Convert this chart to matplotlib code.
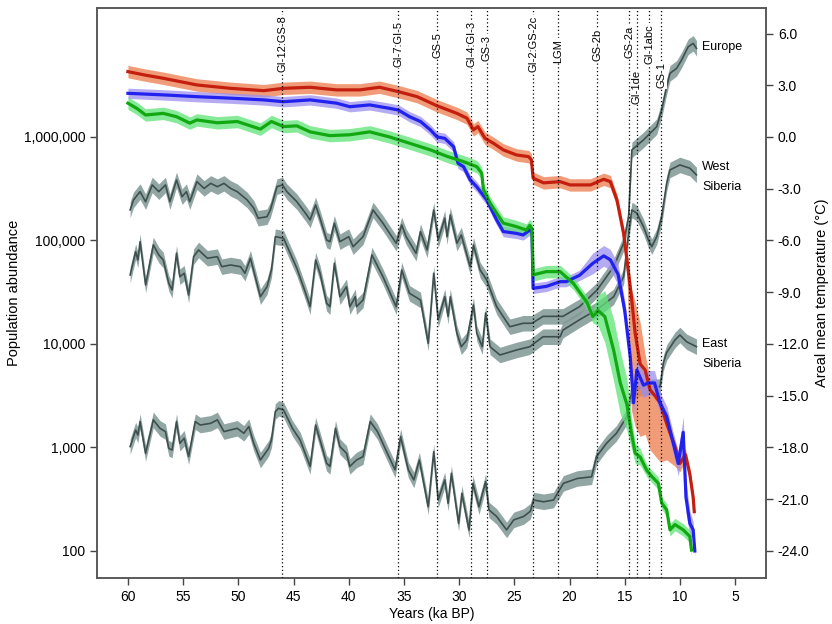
import numpy as np
import matplotlib
matplotlib.use("Agg")
import matplotlib.pyplot as plt
from matplotlib.ticker import FixedLocator, FuncFormatter, NullLocator

plt.rcParams['font.family'] = ['Liberation Sans', 'DejaVu Sans']

# ---------------- Population data (ka BP, abundance) ----------------
red_year = [60.0, 58.5, 56.8, 53.75, 50.7, 47.7, 45.9, 43.5, 41.1, 39.0, 37.2, 35.5, 33.8, 32.0,
            30.2, 29.3, 28.7, 28.3, 27.65, 26.9, 26.0, 24.8, 23.7, 23.45, 23.3, 22.35, 20.85,
            19.95, 18.1, 16.9, 16.3, 15.7, 15.1, 14.8, 14.4, 14.05, 13.6, 13.15, 12.7, 12.3,
            11.8, 11.2, 10.45, 10.0, 9.5, 9.1, 8.8, 8.7]
red_pop = [4.28e6, 3.97e6, 3.69e6, 3.18e6, 2.95e6, 2.80e6, 2.95e6, 3.02e6, 2.85e6, 2.85e6, 3.02e6,
           2.74e6, 2.45e6, 2.0e6, 1.69e6, 1.52e6, 1.17e6, 1.26e6, 9.7e5, 8.7e5, 7.5e5, 6.7e5,
           6.45e5, 6.0e5, 4.0e5, 3.6e5, 3.7e5, 3.44e5, 3.44e5, 3.9e5, 3.7e5, 2.45e5, 1.17e5,
           6.5e4, 2.9e4, 1.26e4, 6.4e3, 5.6e3, 3.6e3, 3.2e3, 2.7e3, 1.7e3, 1.02e3, 700, 850,
           550, 330, 240]
red_hi = [0.06] * 33 + [0.1, 0.08, 0.3, 0.4, 0.15, 0.1, 0.08, 0.08, 0.06, 0.06, 0.06, 0.06,
                        0.06, 0.06, 0.06]
red_lo = [0.06] * 32 + [0.1, 0.15, 1.1, 0.9, 0.7, 0.62, 0.58, 0.58, 0.57, 0.35, 0.19, 0.08,
                        0.06, 0.06, 0.06, 0.06]

blue_year = [60.0, 56.8, 53.75, 50.7, 47.7, 45.9, 43.5, 41.1, 39.9, 38.1, 36.3, 35.5, 34.5, 33.5,
             32.6, 32.0, 31.3, 30.5, 30.1, 29.6, 29.0, 28.4, 27.5, 26.6, 26.0, 24.8, 24.2, 23.6,
             23.4, 23.3, 22.1, 20.85, 20.3, 19.1, 17.9, 16.9, 16.3, 15.6, 15.0, 14.5, 14.2, 13.9,
             13.3, 12.9, 12.3, 11.8, 11.2, 10.6, 10.15, 9.7, 9.45, 9.1, 8.8, 8.65]
blue_pop = [2.64e6, 2.55e6, 2.45e6, 2.37e6, 2.28e6, 2.19e6, 2.28e6, 2.12e6, 1.96e6, 2.04e6, 1.89e6,
            1.82e6, 1.57e6, 1.41e6, 1.17e6, 1.0e6, 9.7e5, 8.05e5, 5.57e5, 5.16e5, 3.85e5, 3.3e5,
            2.46e5, 1.58e5, 1.22e5, 1.17e5, 1.13e5, 1.26e5, 1.2e5, 3.45e4, 3.6e4, 4.0e4, 4.0e4,
            4.6e4, 6.0e4, 7.1e4, 6.5e4, 4.7e4, 2.1e4, 7.5e3, 2.7e3, 5.6e3, 4.0e3, 4.2e3, 4.2e3,
            2.7e3, 2.0e3, 1.1e3, 700, 1.4e3, 330, 185, 160, 100]
blue_err = [0.05] * 34 + [0.1, 0.1, 0.1, 0.1, 0.1, 0.12, 0.12, 0.12, 0.12, 0.12, 0.12, 0.1,
                          0.1, 0.1, 0.12, 0.15, 0.15, 0.12, 0.08, 0.05]

green_year = [60.0, 59.2, 58.4, 56.8, 55.6, 54.4, 53.75, 51.9, 50.1, 48.0, 47.0, 45.9, 44.7, 43.5,
              41.7, 39.9, 38.1, 36.3, 34.5, 32.6, 31.1, 29.6, 28.4, 27.95, 27.8, 27.2, 26.6, 26.0,
              24.8, 23.9, 23.6, 23.4, 23.3, 22.1, 20.85, 19.65, 18.4, 17.9, 17.4, 16.8, 16.0,
              15.4, 14.8, 14.4, 14.05, 13.6, 13.0, 12.55, 11.95, 11.65, 11.2, 10.9, 10.45, 9.7,
              9.1, 8.95]
green_pop = [2.12e6, 1.89e6, 1.63e6, 1.69e6, 1.57e6, 1.36e6, 1.46e6, 1.37e6, 1.41e6, 1.19e6,
             1.41e6, 1.26e6, 1.28e6, 1.12e6, 1.03e6, 1.05e6, 1.12e6, 1.0e6, 8.7e5, 7.5e5, 6.5e5,
             5.77e5, 5.16e5, 4.46e5, 3.1e5, 2.3e5, 1.83e5, 1.47e5, 1.36e5, 1.26e5, 1.4e5, 1.3e5,
             4.65e4, 5.0e4, 5.0e4, 3.85e4, 2.5e4, 1.84e4, 2.1e4, 1.84e4, 8.7e3, 4.2e3, 2.6e3,
             1.4e3, 880, 810, 600, 525, 450, 290, 250, 160, 180, 160, 138, 102]
green_err = [0.06] * 38 + [0.15, 0.25, 0.3, 0.3, 0.25, 0.15, 0.1, 0.08] + [0.06] * 10

# ---------------- Temperature data (ka BP, deg C) ----------------
eu_year = [59.8, 59.5, 58.9, 58.4, 57.8, 57.2, 56.6, 56.2, 55.6, 55.1, 54.7, 54.4, 53.75, 53.1,
           52.5, 51.9, 51.3, 50.7, 50.1, 49.2, 48.6, 48.2, 47.4, 47.1, 46.5, 46.0, 45.6, 44.7,
           43.8, 43.5, 43.0, 42.6, 42.0, 41.7, 41.3, 40.8, 40.0, 39.6, 38.7, 37.8, 36.9, 35.7,
           35.2, 34.8, 33.9, 33.5, 32.9, 32.3, 31.9, 31.3, 31.1, 30.8, 30.2, 29.8, 29.0, 28.7,
           28.1, 27.5, 26.6, 25.4, 24.2, 23.4, 22.4, 20.6, 19.1, 17.5, 16.0, 15.1, 14.65, 14.35,
           13.9, 13.3, 12.85, 12.1, 11.65, 11.2, 10.9, 10.3, 9.85, 9.25, 8.8, 8.5]
eu_temp = [-4.23, -3.65, -3.17, -3.75, -2.78, -3.17, -2.78, -3.75, -2.49, -3.46, -3.17, -3.75,
           -2.59, -2.98, -2.69, -2.88, -2.69, -2.98, -3.17, -3.65, -4.13, -4.71, -4.62, -4.23,
           -2.88, -2.78, -3.17, -3.75, -4.52, -4.81, -3.94, -4.71, -5.97, -6.07, -5.0, -6.07,
           -5.78, -6.36, -5.78, -4.23, -5.0, -6.16, -5.1, -5.78, -6.74, -5.49, -6.55, -4.23,
           -5.97, -4.71, -5.78, -4.52, -6.16, -5.68, -7.52, -6.26, -7.71, -8.29, -9.84, -11.0,
           -10.8, -10.8, -10.4, -10.4, -9.84, -8.87, -7.52, -6.16, -4.62, -0.75, -0.5, -0.17,
           0.12, 0.6, 1.57, 2.92, 3.69, 3.98, 4.46, 5.23, 5.43, 5.14]

ws_year = [59.8, 59.3, 59.1, 58.9, 58.4, 57.7, 57.2, 56.8, 56.3, 56.0, 55.6, 55.3, 54.9, 54.5,
           54.05, 53.6, 52.8, 51.9, 51.5, 50.7, 49.8, 49.4, 48.9, 48.0, 47.4, 47.0, 46.65, 45.9,
           45.3, 44.7, 43.9, 43.5, 43.0, 42.6, 42.0, 41.7, 41.3, 40.8, 40.2, 39.9, 39.4, 39.3,
           38.7, 37.9, 36.9, 35.7, 35.2, 34.5, 33.5, 32.8, 32.3, 31.9, 31.3, 31.0, 30.8, 30.2,
           29.8, 29.3, 28.7, 28.4, 27.9, 27.6, 27.2, 26.3, 24.8, 23.6, 22.4, 20.85, 20.6, 19.1,
           17.5, 16.0, 15.1, 14.65, 14.35, 13.9, 13.3, 12.85, 12.55, 12.1, 11.65, 11.2, 10.9,
           10.0, 9.1, 8.5]
ws_temp = [-8.0, -6.65, -7.13, -6.07, -8.58, -6.26, -6.84, -7.13, -8.48, -8.87, -6.74, -8.1, -7.9,
           -9.16, -6.94, -6.55, -7.03, -6.94, -7.52, -7.42, -7.52, -7.9, -7.03, -9.26, -8.68,
           -7.71, -5.78, -5.87, -6.74, -7.61, -9.06, -9.84, -7.13, -7.9, -9.64, -9.84, -7.32,
           -9.26, -8.68, -9.84, -9.26, -9.84, -9.45, -6.84, -8.1, -9.84, -7.71, -9.06, -9.45,
           -11.96, -7.9, -10.6, -9.26, -10.4, -9.26, -11.38, -12.16, -11.77, -9.74, -11.38,
           -12.16, -10.2, -12.16, -12.64, -12.35, -12.16, -11.58, -11.58, -11.2, -10.6, -10.0,
           -9.26, -8.1, -5.58, -4.23, -4.42, -5.2, -5.97, -6.36, -5.78, -4.62, -2.69, -1.91,
           -1.62, -1.81, -2.2]

es_year = [59.8, 59.3, 59.1, 58.9, 58.4, 57.7, 57.1, 56.6, 56.3, 56.0, 55.6, 55.3, 54.9, 54.5,
           53.9, 53.45, 52.5, 51.9, 51.3, 50.1, 49.5, 49.05, 48.6, 48.0, 47.25, 47.0, 46.65,
           46.35, 45.9, 45.1, 44.4, 43.5, 43.0, 42.6, 42.0, 41.7, 41.2, 40.8, 40.2, 39.9, 39.3,
           38.7, 38.05, 37.4, 36.5, 35.8, 35.3, 34.6, 34.1, 33.6, 32.8, 32.3, 31.9, 31.3, 31.0,
           30.7, 30.05, 29.75, 29.1, 28.75, 28.2, 27.6, 27.3, 26.6, 25.7, 25.05, 24.15, 23.55,
           23.25, 22.35, 21.45, 20.55, 19.3, 18.0, 17.55, 16.65, 15.75, 14.8, 14.5, 13.9, 12.9,
           11.8, 11.5, 11.2, 10.45, 10.0, 9.4, 8.8, 8.5]
es_temp = [-17.95, -16.99, -17.28, -16.5, -18.34, -16.4, -16.89, -17.08, -18.05, -18.15, -16.5,
           -17.76, -17.47, -18.53, -16.5, -16.7, -16.6, -16.4, -17.08, -16.89, -17.18, -16.79,
           -17.76, -18.73, -18.05, -17.57, -15.92, -15.73, -15.83, -16.89, -17.57, -19.1, -16.7,
           -17.57, -18.92, -19.1, -16.89, -17.95, -18.34, -19.1, -18.73, -18.53, -16.5, -17.08,
           -18.34, -19.3, -17.37, -19.3, -19.88, -18.73, -21.44, -18.24, -21.05, -19.88, -21.24,
           -19.5, -22.4, -20.66, -22.79, -20.08, -21.44, -19.98, -21.62, -22.0, -22.78, -22.2,
           -22.0, -21.7, -21.05, -21.15, -21.05, -20.08, -19.8, -19.7, -18.53, -17.76, -17.18,
           -16.21, -15.05, -14.6, -14.5, -14.47, -13.1, -12.5, -11.77, -11.48, -11.87, -12.06,
           -12.16]
temp_err = 0.45

# ---------------- Event markers ----------------
event_year = [46.0, 35.5, 32.0, 28.9, 27.5, 23.3, 21.0, 17.5, 14.6, 13.9, 12.8, 11.7]
event_label = ["GI-12:GS-8", "GI-7:GI-5", "GS-5", "GI-4:GI-3", "GS-3", "GI-2:GS-2c", "LGM",
               "GS-2b", "GS-2a", "GI-1de", "GI-1abc", "GS-1"]
event_pos = [0.937, 0.937, 0.935, 0.937, 0.93, 0.937, 0.925, 0.935, 0.94, 0.862, 0.937, 0.882]

region_label = ["Europe", "West\nSiberia", "East\nSiberia"]
region_temp = [5.2, -2.3, -12.6]

x_ticks = [60, 55, 50, 45, 40, 35, 30, 25, 20, 15, 10, 5]
pop_ticks = [100, 1000, 10000, 100000, 1000000]
temp_ticks = [6.0, 3.0, 0.0, -3.0, -6.0, -9.0, -12.0, -15.0, -18.0, -21.0, -24.0]

# ---------------- Figure ----------------
fig = plt.figure(figsize=(8.32, 6.24), dpi=100)
ax = fig.add_axes([0.1166, 0.0737, 0.8041, 0.9135])
ax2 = ax.twinx()
ax.set_zorder(ax2.get_zorder() + 1)
ax.patch.set_visible(False)

ax.set_yscale('log')
ax.set_xlim(62.8, 2.2)
ax.set_ylim(54.8, 1.762e7)
ax2.set_ylim(-25.57, 7.48)

# temperature curves (right axis)
grey_line = '#3e504e'
grey_band = '#7f9794'
for yr, tp in [(eu_year, eu_temp), (ws_year, ws_temp), (es_year, es_temp)]:
    yr = np.array(yr)
    tp = np.array(tp)
    ax2.fill_between(yr, tp - temp_err, tp + temp_err, color=grey_band, alpha=0.85, lw=0)
    ax2.plot(yr, tp, color=grey_line, lw=1.2)

# population curves (left axis)
def draw_pop(yr, pop, lo, hi, lc, bc, balpha):
    yr = np.array(yr)
    pop = np.array(pop)
    ax.fill_between(yr, pop / 10 ** np.array(lo), pop * 10 ** np.array(hi),
                    color=bc, alpha=balpha, lw=0)
    ax.plot(yr, pop, color=lc, lw=2.3, solid_joinstyle='round')

draw_pop(red_year, red_pop, red_lo, red_hi, '#c41e0e', '#ee8458', 0.8)
draw_pop(blue_year, blue_pop, blue_err, blue_err, '#2222ee', '#9b8ff0', 0.75)
draw_pop(green_year, green_pop, green_err, green_err, '#12a812', '#5fe477', 0.75)

# event lines and labels
for yr, lab, pos in zip(event_year, event_label, event_pos):
    ax.axvline(yr, color='black', lw=0.9, ls=(0, (1, 2)), zorder=5)
    ax.text(yr, pos, lab, transform=ax.get_xaxis_transform(), rotation=90,
            ha='center', va='center', fontsize=8,
            bbox=dict(facecolor='white', edgecolor='none', pad=0.6), zorder=6)

# region labels
for lab, t in zip(region_label, region_temp):
    ax2.text(8.0, t, lab, ha='left', va='center', fontsize=9, linespacing=1.9)

# axes formatting
ax.set_xticks(x_ticks)
ax.yaxis.set_major_locator(FixedLocator(pop_ticks))
ax.yaxis.set_minor_locator(NullLocator())
ax.yaxis.set_major_formatter(FuncFormatter(lambda v, p: f"{int(round(v)):,}"))
ax2.yaxis.set_major_locator(FixedLocator(temp_ticks))
ax2.yaxis.set_major_formatter(FuncFormatter(lambda v, p: f"{v:.1f}"))

for a in (ax, ax2):
    a.tick_params(axis='both', which='major', direction='out', length=5, width=1,
                  color='#444444', labelsize=10, labelcolor='black')
    for s in a.spines.values():
        s.set_color('#555555')
        s.set_linewidth(1.1)

ax.set_xlabel("Years (ka BP)", fontsize=10, labelpad=2)
ax.set_ylabel("Population abundance", fontsize=10.5, labelpad=2)
ax2.set_ylabel("Areal mean temperature (°C)", fontsize=10.5, labelpad=4)

fig.savefig("out.png", dpi=100)
